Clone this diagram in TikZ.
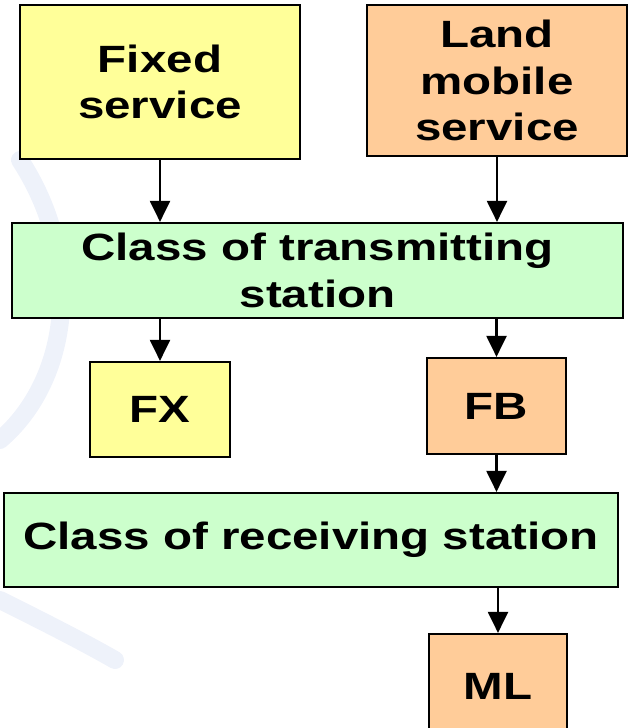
\documentclass[tikz,border=0pt]{standalone}
\usepackage{fontspec}
\setmainfont{Liberation Sans}
\newfontfamily\boxfont[FakeStretch=1.25]{Liberation Sans}
\usetikzlibrary{arrows.meta}

\definecolor{fixcol}{RGB}{255,255,153}
\definecolor{mobcol}{RGB}{255,204,153}
\definecolor{clscol}{RGB}{204,255,204}
\definecolor{wmcol}{RGB}{238,242,250}

\begin{document}
\begin{tikzpicture}[x=1pt, y=-1pt,
    box/.style={draw, line width=2.2pt, align=center, inner sep=0pt,
      font=\boxfont\fontsize{38}{46.5}\selectfont\bfseries},
    arr/.style={-{Triangle[length=21pt, width=20pt]}, line width=2.2pt},
    wm/.style={wmcol, line width=18pt, line cap=round}]

  \useasboundingbox (0,0) rectangle (636,728);
  \clip (0,0) rectangle (636,728);

  % faint background mark
  \draw[wm] (20,160) .. controls (85,260) and (70,380) .. (0,440);
  \draw[wm] (0,600) .. controls (40,620) and (80,640) .. (115,660);

  \node[box, fill=fixcol, minimum width=280pt, minimum height=154pt] (fixed) at (160,82) {Fixed\\service};
  \node[box, fill=mobcol, minimum width=260pt, minimum height=151pt] (mobile) at (497,80.5) {Land\\mobile\\service};

  \node[box, fill=clscol, minimum width=611pt, minimum height=95pt] (trans) at (317.5,270.5) {Class of transmitting\\station};

  \node[box, fill=fixcol, minimum width=140pt, minimum height=95pt] (fx) at (160,409.5) {FX};
  \node[box, fill=mobcol, minimum width=139pt, minimum height=96pt] (fb) at (496.5,406) {FB};

  \node[box, fill=clscol, minimum width=614pt, minimum height=94pt] (recv) at (311,540) {Class of receiving station};

  \node[box, fill=mobcol, minimum width=138pt, minimum height=104pt] (ml) at (498,686) {ML};

  \draw[arr] (fixed.south) -- (fixed.south |- trans.north);
  \draw[arr] (mobile.south) -- (mobile.south |- trans.north);
  \draw[arr] (trans.south -| fx.north) -- (fx.north);
  \draw[arr] (trans.south -| fb.north) -- (fb.north);
  \draw[arr] (fb.south) -- (fb.south |- recv.north);
  \draw[arr] (recv.south -| ml.north) -- (ml.north);

\end{tikzpicture}
\end{document}
